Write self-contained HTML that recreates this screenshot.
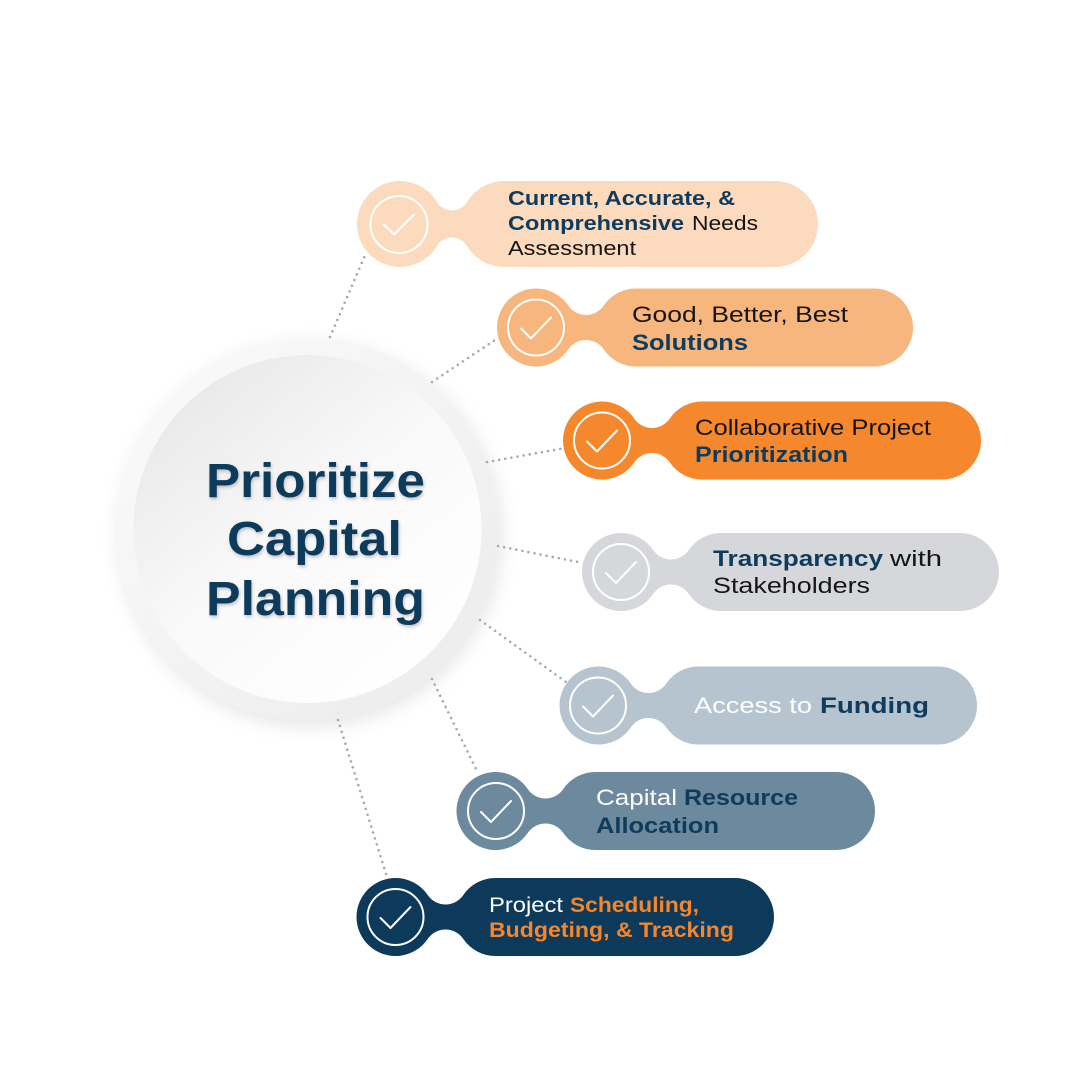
<!DOCTYPE html>
<html>
<head>
<meta charset="utf-8">
<style>
  html,body{margin:0;padding:0;background:#fff;}
  svg{display:block;}
  text{font-family:"Liberation Sans", Arial, sans-serif;}
  .r{font-weight:normal;fill:#151515;}
  .b{font-weight:bold;fill:#0f3b5c;}
  .w{font-weight:normal;fill:#ffffff;}
  .o{font-weight:bold;fill:#f5862b;}
</style>
</head>
<body>
<svg width="1080" height="1080" viewBox="0 0 1080 1080" xmlns="http://www.w3.org/2000/svg">
  <defs>
    <linearGradient id="ring" x1="0" y1="0" x2="1" y2="1">
      <stop offset="0" stop-color="#fbfbfb"/>
      <stop offset="1" stop-color="#ebebeb"/>
    </linearGradient>
    <linearGradient id="inner" x1="0.1" y1="0.05" x2="0.85" y2="0.95">
      <stop offset="0" stop-color="#e7e7e7"/>
      <stop offset="0.5" stop-color="#f9f9f9"/>
      <stop offset="1" stop-color="#ffffff"/>
    </linearGradient>
    <filter id="sh" x="-20%" y="-20%" width="140%" height="140%">
      <feDropShadow dx="3" dy="6" stdDeviation="9" flood-color="#000" flood-opacity="0.10"/>
    </filter>
    <filter id="tsh" x="-10%" y="-20%" width="120%" height="150%">
      <feDropShadow dx="1" dy="2" stdDeviation="1.6" flood-color="#000" flood-opacity="0.22"/>
    </filter>
  </defs>

  <rect width="1080" height="1080" fill="#ffffff"/>

  <!-- central circle -->
  <circle cx="307.5" cy="529" r="191" fill="url(#ring)" filter="url(#sh)"/>
  <circle cx="307.5" cy="529" r="174" fill="url(#inner)"/>

  <g filter="url(#tsh)" fill="#0d3a5c">
    <text x="206" y="497" font-size="48" font-weight="bold" textLength="219" lengthAdjust="spacingAndGlyphs" fill="#0d3a5c">Prioritize</text>
    <text x="227" y="555" font-size="48" font-weight="bold" textLength="175" lengthAdjust="spacingAndGlyphs" fill="#0d3a5c">Capital</text>
    <text x="206" y="615" font-size="48" font-weight="bold" textLength="219" lengthAdjust="spacingAndGlyphs" fill="#0d3a5c">Planning</text>
  </g>

  <!-- dotted connectors -->
  <g stroke="#a9a9a9" stroke-width="2.6" stroke-linecap="round" stroke-dasharray="0 6.2" fill="none">
    <line x1="330" y1="337" x2="366" y2="253"/>
    <line x1="432" y1="382" x2="498" y2="338"/>
    <line x1="487" y1="462" x2="565" y2="448"/>
    <line x1="498" y1="546" x2="583" y2="563"/>
    <line x1="480" y1="620" x2="566" y2="682"/>
    <line x1="432" y1="679" x2="478" y2="773"/>
    <line x1="338" y1="720" x2="387" y2="877"/>
  </g>

  <!-- pills -->
  <path fill="#fbdabd" d="M436.91,201.94 A17.58,17.58 0 0 0 467.09,201.94 A43,43 0 0 1 504,181 L775,181 A43,43 0 0 1 775,267 L504,267 A43,43 0 0 1 467.09,246.06 A17.58,17.58 0 0 0 436.91,246.06 A43,43 0 1 1 436.91,201.94 Z"/>
  <path fill="#f7b67d" d="M568.27,305.6 A21.42,21.42 0 0 0 603.73,305.6 A39,39 0 0 1 636,288.5 L874,288.5 A39,39 0 0 1 874,366.5 L636,366.5 A39,39 0 0 1 603.73,349.4 A21.42,21.42 0 0 0 568.27,349.4 A39,39 0 1 1 568.27,305.6 Z"/>
  <path fill="#f5872c" d="M634.27,418.6 A21.42,21.42 0 0 0 669.73,418.6 A39,39 0 0 1 702,401.5 L942,401.5 A39,39 0 0 1 942,479.5 L702,479.5 A39,39 0 0 1 669.73,462.4 A21.42,21.42 0 0 0 634.27,462.4 A39,39 0 1 1 634.27,418.6 Z"/>
  <path fill="#d6d7db" d="M653.27,550.1 A21.42,21.42 0 0 0 688.73,550.1 A39,39 0 0 1 721,533 L960,533 A39,39 0 0 1 960,611 L721,611 A39,39 0 0 1 688.73,593.9 A21.42,21.42 0 0 0 653.27,593.9 A39,39 0 1 1 653.27,550.1 Z"/>
  <path fill="#b5c4cf" d="M630.77,683.6 A21.42,21.42 0 0 0 666.23,683.6 A39,39 0 0 1 698.5,666.5 L938,666.5 A39,39 0 0 1 938,744.5 L698.5,744.5 A39,39 0 0 1 666.23,727.4 A21.42,21.42 0 0 0 630.77,727.4 A39,39 0 1 1 630.77,683.6 Z"/>
  <path fill="#6c899d" d="M527.77,789.1 A21.42,21.42 0 0 0 563.23,789.1 A39,39 0 0 1 595.5,772 L836,772 A39,39 0 0 1 836,850 L595.5,850 A39,39 0 0 1 563.23,832.9 A21.42,21.42 0 0 0 527.77,832.9 A39,39 0 1 1 527.77,789.1 Z"/>
  <path fill="#0d3a5a" d="M427.77,895.1 A21.42,21.42 0 0 0 463.23,895.1 A39,39 0 0 1 495.5,878 L735,878 A39,39 0 0 1 735,956 L495.5,956 A39,39 0 0 1 463.23,938.9 A21.42,21.42 0 0 0 427.77,938.9 A39,39 0 1 1 427.77,895.1 Z"/>

  <!-- check icons -->
  <g fill="none" stroke="#ffffff" stroke-width="2" stroke-linecap="round" stroke-linejoin="round">
    <g transform="translate(399,224.5)"><circle r="28.5"/><path d="M-15,0 L-5,10 L15,-10"/></g>
    <g transform="translate(536,327.5)"><circle r="28"/><path d="M-15,1 L-5,11 L15,-10"/></g>
    <g transform="translate(602,440.5)"><circle r="28"/><path d="M-15,1 L-5,11 L15,-10"/></g>
    <g transform="translate(621,572)"><circle r="28"/><path d="M-15,1 L-5,11 L15,-10"/></g>
    <g transform="translate(598,705.5)"><circle r="28"/><path d="M-15,1 L-5,11 L15,-10"/></g>
    <g transform="translate(496,811)"><circle r="28"/><path d="M-15,1 L-5,11 L15,-10"/></g>
    <g transform="translate(395.5,917)"><circle r="28"/><path d="M-15,1 L-5,11 L15,-10"/></g>
  </g>

  <!-- pill 1 text -->
  <text class="b" x="508" y="205" font-size="20" textLength="227" lengthAdjust="spacingAndGlyphs">Current, Accurate, &amp;</text>
  <text class="b" x="508" y="230" font-size="20" textLength="176" lengthAdjust="spacingAndGlyphs">Comprehensive</text>
  <text class="r" x="692" y="230" font-size="20" textLength="66" lengthAdjust="spacingAndGlyphs">Needs</text>
  <text class="r" x="508" y="255" font-size="20" textLength="128" lengthAdjust="spacingAndGlyphs">Assessment</text>

  <!-- pill 2 text -->
  <text class="r" x="632" y="322" font-size="22" textLength="216" lengthAdjust="spacingAndGlyphs">Good, Better, Best</text>
  <text class="b" x="632" y="350" font-size="22" textLength="116" lengthAdjust="spacingAndGlyphs">Solutions</text>

  <!-- pill 3 text -->
  <text class="r" x="695" y="435" font-size="22" textLength="236" lengthAdjust="spacingAndGlyphs">Collaborative Project</text>
  <text class="b" x="695" y="462" font-size="22" textLength="153" lengthAdjust="spacingAndGlyphs">Prioritization</text>

  <!-- pill 4 text -->
  <text class="b" x="713" y="566" font-size="22" textLength="170" lengthAdjust="spacingAndGlyphs">Transparency</text>
  <text class="r" x="890" y="566" font-size="22" textLength="52" lengthAdjust="spacingAndGlyphs">with</text>
  <text class="r" x="713" y="593" font-size="22" textLength="157" lengthAdjust="spacingAndGlyphs">Stakeholders</text>

  <!-- pill 5 text -->
  <text class="w" x="694" y="713" font-size="22" textLength="118" lengthAdjust="spacingAndGlyphs">Access to</text>
  <text class="b" x="820" y="713" font-size="22" textLength="109" lengthAdjust="spacingAndGlyphs">Funding</text>

  <!-- pill 6 text -->
  <text class="w" x="596" y="805" font-size="22" textLength="81" lengthAdjust="spacingAndGlyphs">Capital</text>
  <text class="b" x="684" y="805" font-size="22" textLength="114" lengthAdjust="spacingAndGlyphs">Resource</text>
  <text class="b" x="596" y="833" font-size="22" textLength="123" lengthAdjust="spacingAndGlyphs">Allocation</text>

  <!-- pill 7 text -->
  <text class="w" x="489" y="912" font-size="21" textLength="74" lengthAdjust="spacingAndGlyphs">Project</text>
  <text class="o" x="570" y="912" font-size="21" textLength="129" lengthAdjust="spacingAndGlyphs">Scheduling,</text>
  <text class="o" x="489" y="937" font-size="21" textLength="245" lengthAdjust="spacingAndGlyphs">Budgeting, &amp; Tracking</text>
</svg>
</body>
</html>
